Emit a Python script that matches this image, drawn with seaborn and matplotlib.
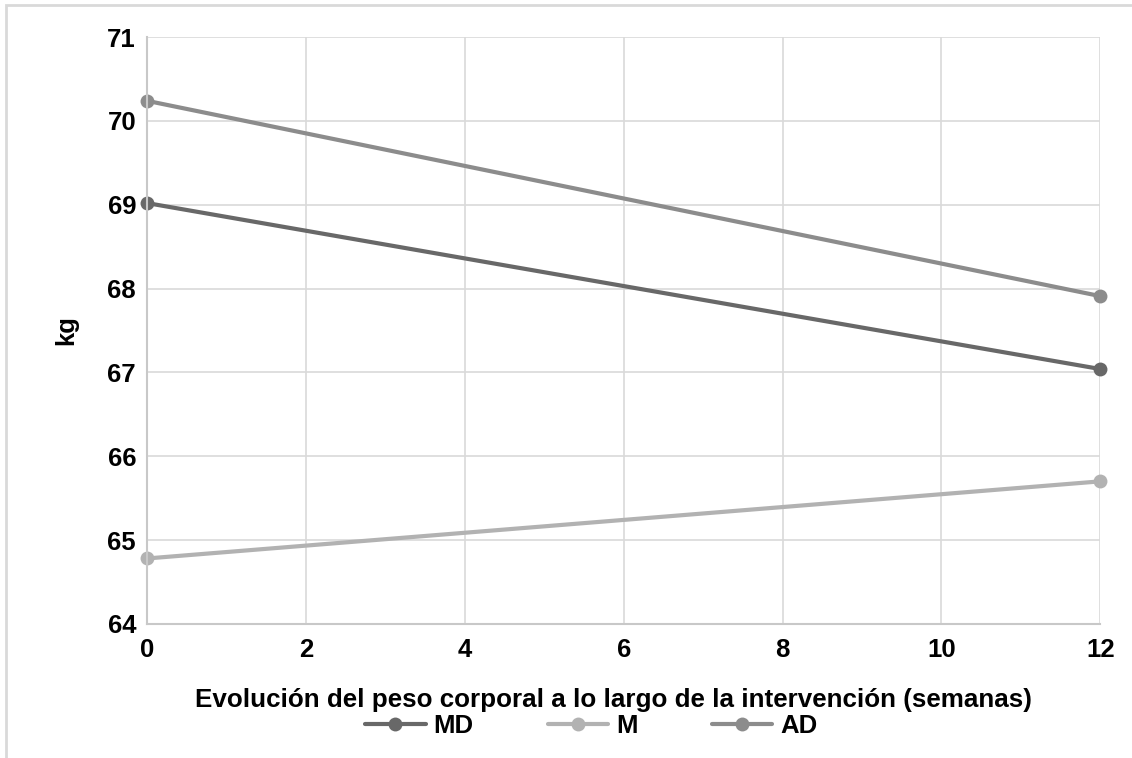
import pandas as pd
import matplotlib
matplotlib.use("Agg")
import matplotlib.pyplot as plt
import seaborn as sns
from matplotlib.patches import Rectangle

# Data
weeks = [0, 12]
md_kg = [69.02, 67.04]
m_kg = [64.78, 65.70]
ad_kg = [70.24, 67.91]
groups = ["MD", "M", "AD"]

df = pd.DataFrame({
    "semana": weeks * 3,
    "kg": md_kg + m_kg + ad_kg,
    "grupo": ["MD"] * 2 + ["M"] * 2 + ["AD"] * 2,
})

sns.set_style("white")
plt.rcParams["font.family"] = ["Liberation Sans", "DejaVu Sans"]
plt.rcParams["font.weight"] = "bold"
plt.rcParams["text.color"] = "black"

fig = plt.figure(figsize=(11.32, 7.58), dpi=100)
ax = fig.add_axes([0.130, 0.177, 0.842, 0.774])

palette = {"MD": "#686868", "M": "#b2b2b2", "AD": "#8c8c8c"}
sns.lineplot(data=df, x="semana", y="kg", hue="grupo", hue_order=groups,
             palette=palette, marker="o", markersize=10, markeredgewidth=0,
             linewidth=3, ax=ax)

ax.set_xlim(0, 12)
ax.set_ylim(64, 71)
ax.set_xticks(range(0, 13, 2))
ax.set_yticks(range(64, 72))
ax.grid(True, color="#d9d9d9", linewidth=1.2)
for s in ["top", "right"]:
    ax.spines[s].set_visible(False)
for s in ["left", "bottom"]:
    ax.spines[s].set_color("#c8c8c8")
    ax.spines[s].set_linewidth(1.5)
for mk in ax.lines:
    mk.set_clip_on(False)
ax.tick_params(axis="both", length=0, labelsize=18.5, labelcolor="black")
ax.tick_params(axis="x", pad=10)
ax.tick_params(axis="y", pad=8)
for t in ax.get_xticklabels() + ax.get_yticklabels():
    t.set_fontweight("bold")

ax.set_xlabel("Evolución del peso corporal a lo largo de la intervención (semanas)",
              fontsize=18.7, fontweight="bold", labelpad=19, color="black")
ax.xaxis.label.set_x(0.489)
ax.set_ylabel("kg", fontsize=18.5, fontweight="bold", labelpad=21, color="black")

leg = ax.legend(loc="center", bbox_to_anchor=(0.466, -0.174), ncol=3,
                frameon=False, fontsize=18.5, columnspacing=2.9,
                handlelength=2.35, handletextpad=0.3, borderaxespad=0)
for t in leg.get_texts():
    t.set_fontweight("bold")
    t.set_color("black")

fig.patches.append(Rectangle((0.005, -0.1), 1.1, 1.093, transform=fig.transFigure,
                             fill=False, edgecolor="#d9d9d9", linewidth=2))

fig.savefig("out.png", dpi=100)
